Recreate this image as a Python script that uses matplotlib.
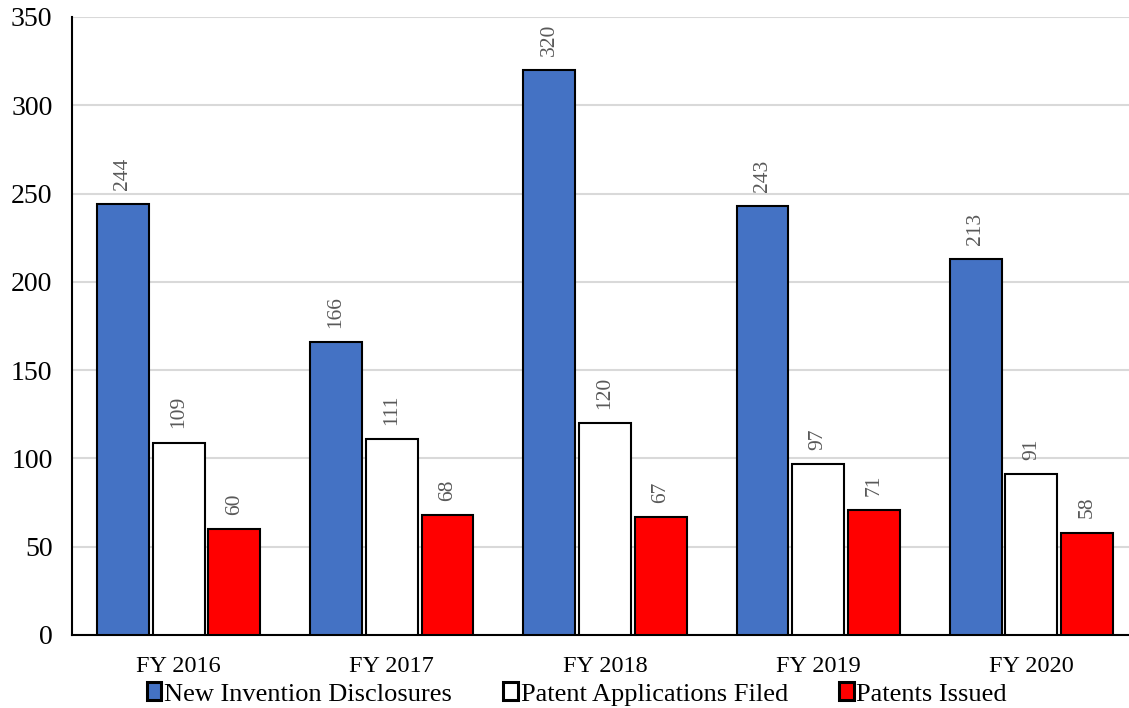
import matplotlib.pyplot as plt
import numpy as np

plt.rcParams['font.family'] = ['Liberation Serif', 'DejaVu Serif']

years = ['FY 2016', 'FY 2017', 'FY 2018', 'FY 2019', 'FY 2020']
disclosures = [244, 166, 320, 243, 213]
applications = [109, 111, 120, 97, 91]
issued = [60, 68, 67, 71, 58]

series = [
    ('New Invention Disclosures', disclosures, '#4472C4'),
    ('Patent Applications Filed', applications, '#FFFFFF'),
    ('Patents Issued', issued, '#FF0000'),
]

fig = plt.figure(figsize=(11.29, 7.08), dpi=100)
ax = fig.add_axes([72 / 1129, 73 / 708, 1066 / 1129, 618 / 708])

x = np.arange(len(years))
w = 0.243
step = 0.261
for i, (name, vals, col) in enumerate(series):
    pos = x + (i - 1) * step
    bars = ax.bar(pos, vals, w, color=col, edgecolor='black', linewidth=1.5, label=name, zorder=3)
    for b, v in zip(bars, vals):
        ax.text(b.get_x() + b.get_width() / 2, v + 8, str(v), rotation=90,
                ha='center', va='bottom', fontsize=15.5, color='#595959')

ax.set_xlim(-0.5, 4.5)
ax.set_ylim(0, 350)
ax.set_yticks(range(0, 351, 50))
ax.set_xticks(x)
ax.set_xticklabels(years)
ax.tick_params(axis='both', length=0)
ax.tick_params(axis='y', labelsize=20, pad=14)
ax.tick_params(axis='x', labelsize=17.5, pad=15)
ax.yaxis.grid(True, color='#D9D9D9', linewidth=1.5, zorder=0)
for s in ['top', 'right']:
    ax.spines[s].set_visible(False)
ax.spines['left'].set_linewidth(1.5)
ax.spines['bottom'].set_linewidth(1.5)

leg = fig.legend(loc='center', bbox_to_anchor=(577 / 1129, 1 - 694 / 708), ncol=3, frameon=False,
                 fontsize=19, handlelength=0.55, handleheight=0.68, handletextpad=0.1,
                 columnspacing=1.95)
for h in leg.legend_handles:
    h.set_linewidth(2.2)

plt.savefig('out.png', dpi=100)
